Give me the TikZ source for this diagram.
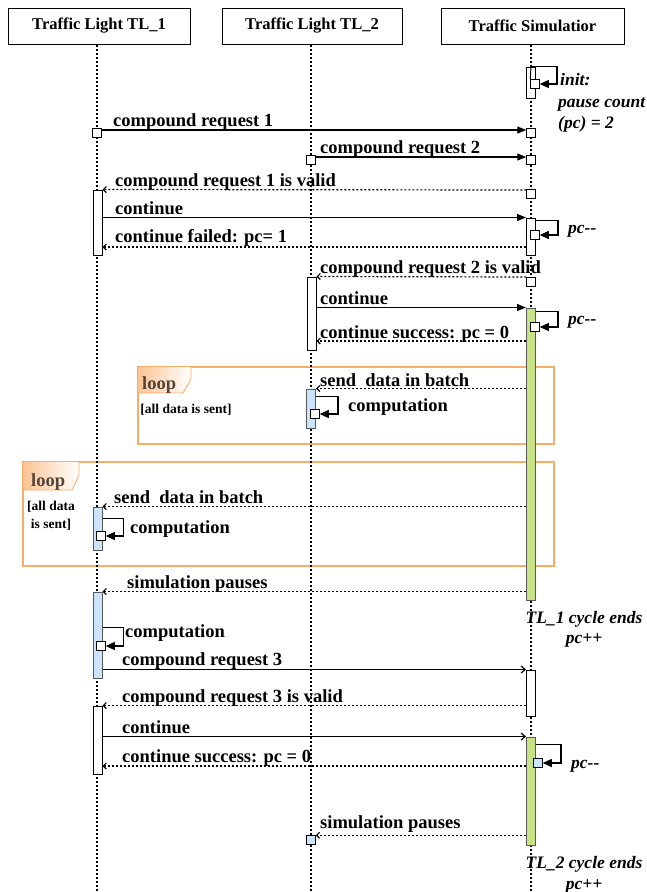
\documentclass[tikz,border=0pt]{standalone}
\usepackage{fontspec}
\setmainfont{Liberation Serif}
\usetikzlibrary{arrows.meta}
\definecolor{mframe}{rgb}{0.98, 0.67, 0.40}
\definecolor{mgreen}{rgb}{0.78, 0.89, 0.52}
\definecolor{mblue}{rgb}{0.80, 0.89, 0.99}
\definecolor{mloop}{rgb}{0.33, 0.27, 0.22}
\tikzset{actor/.style = {draw, line width=1pt, minimum height=36pt, inner sep=0,
                         font=\fontsize{16.5}{18}\selectfont\bfseries}}
\tikzset{life/.style = {line width=1.1pt, dash pattern=on 2pt off 2pt}}
\tikzset{bar/.style = {draw, fill=white, line width=1pt, inner sep=0, minimum width=9pt}}
\tikzset{gbar/.style = {bar, fill=mgreen, draw=black!65}}
\tikzset{bbar/.style = {bar, fill=mblue, draw=black!65}}
\tikzset{sq/.style = {draw, fill=white, line width=1pt, inner sep=0, minimum size=8.5pt}}
\tikzset{call/.style = {line width=1.2pt, -{Triangle[length=9pt, width=7pt]}}}
\tikzset{callo/.style = {line width=1.2pt, -{Straight Barb[length=4pt, width=7pt]}}}
\tikzset{reply/.style = {line width=1.2pt, dash pattern=on 2pt off 2pt,
                         -{Straight Barb[length=3pt, width=6pt]}}}
\tikzset{selfmsg/.style = {line width=1.2pt, -{Triangle[length=9pt, width=8pt]}}}
\tikzset{lbl/.style = {inner sep=0, anchor=base west, font=\fontsize{18.5}{20}\selectfont\bfseries}}
\tikzset{note/.style = {inner sep=0, anchor=base west, font=\fontsize{17.5}{20}\selectfont\bfseries\itshape}}
\tikzset{guard/.style = {inner sep=0, anchor=base, font=\fontsize{13.5}{15}\selectfont\bfseries}}
\tikzset{frame/.style = {draw=mframe, line width=1.2pt}}

\begin{document}
\begin{tikzpicture}[x=1pt, y=-1pt]
    \useasboundingbox (0, 0) rectangle (647, 892);

    \draw [frame] (138, 367) rectangle (554, 444);
    \shade [left color=mframe!70, right color=white] (138, 367) -- (191, 367) -- (191, 379)
      -- (183, 393) -- (138, 393) -- cycle;
    \draw [frame, line width=0.8pt] (191, 367) -- (191, 379) -- (183, 393) -- (138, 393);
    \node [lbl, text=mloop] (lp1) at (142, 389) {loop};
    \node [guard] (gd1) at (186, 413) {[all data is sent]};

    \draw [frame] (23, 462) rectangle (554, 566);
    \shade [left color=mframe!70, right color=white] (23, 462) -- (79, 462) -- (79, 475)
      -- (72, 490) -- (23, 490) -- cycle;
    \draw [frame, line width=0.8pt] (79, 462) -- (79, 475) -- (72, 490) -- (23, 490);
    \node [lbl, text=mloop] (lp2) at (31, 486) {loop};
    \node [guard] (gd2) at (51, 510) {[all data};
    \node [guard] (gd3) at (51, 528) {is sent]};

    \node [actor, minimum width=182pt] (tl1) at (99, 26) {Traffic Light TL\_1};
    \node [actor, minimum width=180pt] (tl2) at (312, 26) {Traffic Light TL\_2};
    \node [actor, minimum width=183pt] (sim) at (532.5, 26) {Traffic Simulatior};

    \coordinate (tl1end) at (97, 892);
    \coordinate (tl2end) at (311, 892);
    \coordinate (simend) at (531, 892);
    \draw [life] (tl1.south -| tl1end) -- (tl1end);
    \draw [life] (tl2.south -| tl2end) -- (tl2end);
    \draw [life] (sim.south -| simend) -- (simend);

    \node [bar, minimum height=31pt] (a0) at (531, 82.5) {};
    \node [bar, minimum height=65pt] (a1) at (97.5, 222.5) {};
    \node [bar, minimum height=37pt] (a2) at (531, 236.5) {};
    \node [bar, minimum height=73pt] (a3) at (311.5, 313.5) {};
    \node [gbar, minimum height=292pt] (a4) at (531, 454) {};
    \node [bbar, minimum height=39pt] (a5) at (311, 408.5) {};
    \node [bbar, minimum height=43pt] (a6) at (97.5, 528.5) {};
    \node [bbar, minimum height=86pt] (a7) at (97.5, 635) {};
    \node [bar, minimum height=46pt] (a8) at (531, 693) {};
    \node [bar, minimum height=68pt] (a9) at (97.5, 740) {};
    \node [gbar, minimum height=108pt] (a10) at (531, 791) {};

    \node [sq] (l0) at (535, 84) {};
    \draw [line width=1pt] (a0.north) -- (l0.north west);
    \draw [selfmsg] (a0.north) -- ++(26, 0) |- (l0.east);
    \node [note] (n0) at (560, 85) {init:};
    \node [note] (n1) at (558, 107) {pause count};
    \node [note] (n2) at (558, 128) {(pc) = 2};

    \node [sq] (q1) at (97, 133) {};
    \node [sq] (q2) at (531, 133) {};
    \draw [call] ([yshift=3pt]q1.east) -- ([yshift=3pt]q2.west);
    \node [lbl] (m1) at (113, 126) {compound request 1};

    \node [sq] (q3) at (311, 160) {};
    \node [sq] (q4) at (531, 160) {};
    \draw [call] ([yshift=3pt]q3.east) -- ([yshift=3pt]q4.west);
    \node [lbl] (m2) at (320, 153) {compound request 2};

    \node [sq] (q5) at (531, 194) {};
    \draw [reply] ([yshift=4pt]q5.west) -- (a1.north east);
    \node [lbl] (m3) at (115, 186) {compound request 1 is valid};

    \draw [call] (a1.east |- a2.north) -- (a2.north west);
    \node [lbl] (m4) at (115, 214) {continue};
    \node [sq] (l1) at (535, 235) {};
    \draw [selfmsg] ([yshift=-3pt]a2.north east) -- ++(22, 0) |- (l1.east);
    \node [note] (n3) at (568, 233) {pc-{}-};

    \coordinate (fl) at (0, 247);
    \draw [reply] (a2.west |- fl) -- (a1.east |- fl);
    \node [lbl] (m5) at (115, 242) {continue failed: pc= 1};

    \node [sq] (q6) at (531, 282) {};
    \draw [reply] ([yshift=5pt]q6.west) -- (a3.north east);
    \node [lbl] (m6) at (320, 273) {compound request 2 is valid};

    \draw [call] (a3.east |- a4.north) -- (a4.north west);
    \node [lbl] (m7) at (320, 304) {continue};
    \node [sq] (l2) at (535, 327) {};
    \draw [selfmsg] ([yshift=-4pt]a4.north east) -- ++(22, 0) |- (l2.east);
    \node [note] (n4) at (568, 324) {pc-{}-};

    \coordinate (sc1) at (0, 341);
    \draw [reply] (a4.west |- sc1) -- (a3.east |- sc1);
    \node [lbl] (m8) at (320, 338) {continue success: pc = 0};

    \draw [reply] (a4.west |- a5.north) -- (a5.north east);
    \node [lbl] (m9) at (320, 386) {send~ data in batch};
    \node [sq] (l3) at (315, 414) {};
    \draw [selfmsg] ([yshift=-8pt]a5.north east) -- ++(22, 0) |- (l3.east);
    \node [lbl] (m10) at (348, 411) {computation};

    \draw [reply] (a4.west |- a6.north) -- (a6.north east);
    \node [lbl] (m11) at (114, 503) {send~ data in batch};
    \node [sq] (l4) at (101, 536) {};
    \draw [selfmsg] ([yshift=-12pt]a6.north east) -- ++(21, 0) |- (l4.east);
    \node [lbl] (m12) at (130, 533) {computation};

    \draw [reply] (a4.west |- a7.north) -- (a7.north east);
    \node [lbl] (m13) at (127, 588) {simulation pauses};
    \node [sq] (l5) at (101, 646) {};
    \draw [selfmsg] ([yshift=-36pt]a7.north east) -- ++(21, 0) |- (l5.east);
    \node [lbl] (m14) at (125, 637) {computation};
    \node [note, anchor=base] (n5) at (584, 623) {TL\_1 cycle ends};
    \node [note, anchor=base] (n6) at (584, 643) {pc++};

    \draw [callo] (a7.east |- a8.north) -- (a8.north west);
    \node [lbl] (m15) at (122, 665) {compound request 3};

    \draw [reply] (a8.west |- a9.north) -- (a9.north east);
    \node [lbl] (m16) at (122, 702) {compound request 3 is valid};

    \draw [callo] (a9.east |- a10.north) -- (a10.north west);
    \node [lbl] (m17) at (122, 733) {continue};
    \node [sq, fill=mblue] (l6) at (538, 763) {};
    \draw [selfmsg] ([yshift=-8pt]a10.north east) -- ++(25, 0) |- (l6.east);
    \node [note] (n7) at (571, 768) {pc-{}-};

    \coordinate (sc2) at (0, 766);
    \draw [reply] (a10.west |- sc2) -- (a9.east |- sc2);
    \node [lbl] (m18) at (122, 762) {continue success: pc = 0};

    \node [sq, fill=mblue] (q7) at (311, 840) {};
    \draw [reply] (a10.west |- q7.north) -- (q7.north east);
    \node [lbl] (m19) at (320, 828) {simulation pauses};
    \node [note, anchor=base] (n8) at (584, 868) {TL\_2 cycle ends};
    \node [note, anchor=base] (n9) at (584, 889) {pc++};
  \end{tikzpicture}
\end{document}
